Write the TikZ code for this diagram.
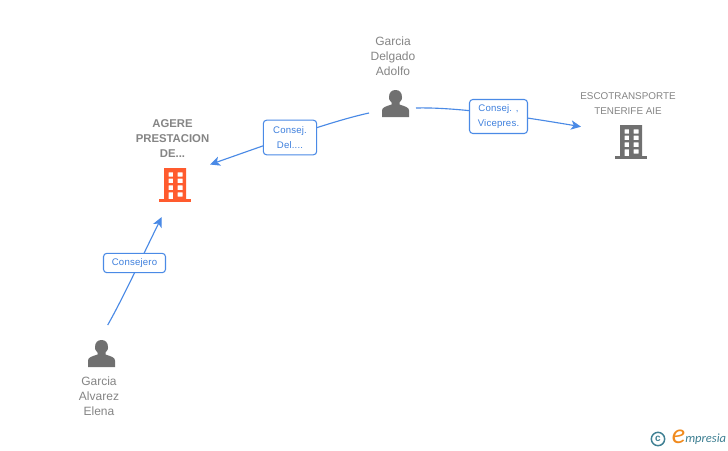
\documentclass[tikz,border=0pt]{standalone}
\usepackage{fontspec}
\setmainfont{Liberation Sans}
\newfontfamily\namefont{Liberation Sans}
\newfontfamily\capsfont{Liberation Sans}
\newfontfamily\labfont[LetterSpace=2]{Liberation Sans}
\newfontfamily\logofont{Carlito}
\usetikzlibrary{arrows.meta}
\definecolor{txtgray}{HTML}{858585}
\definecolor{icongray}{HTML}{707070}
\definecolor{hotorange}{HTML}{FF5B2E}
\definecolor{linkblue}{HTML}{4A8AE6}
\definecolor{labblue}{HTML}{3D7FDD}
\definecolor{logoteal}{HTML}{3F8093}
\definecolor{logoorange}{HTML}{F08A1D}
\tikzset{
  x=0.75pt,y=-0.75pt,
  conn/.style={draw=linkblue,line width=0.85pt,-{Stealth[length=7.5pt,width=7pt,inset=2pt]}},
  linkbox/.style={draw=linkblue,line width=0.8pt,rounded corners=2.5pt,fill=white,
    inner sep=0pt,text=labblue,align=center,font=\labfont\fontsize{7.2pt}{11.25pt}\selectfont},
  personname/.style={text=txtgray,align=center,inner sep=0pt,font=\namefont\fontsize{9pt}{11.25pt}\selectfont},
  firmname/.style={text=txtgray,align=center,inner sep=0pt,font=\capsfont\fontsize{7.4pt}{11.25pt}\selectfont},
  hotname/.style={text=txtgray,align=center,inner sep=0pt,font=\capsfont\bfseries\fontsize{8.5pt}{11.25pt}\selectfont},
  anchorbox/.style={inner sep=0pt,minimum width=20pt,minimum height=20pt},
  pics/persona/.style={code={
    \fill[icongray] (-13.5,13.5) -- (-13.5,7) .. controls (-13.5,4) and (-10,3) .. (-4,1)
      -- (-4,-1) .. controls (-6.5,-3) and (-6.5,-5) .. (-6.5,-6)
      .. controls (-6.5,-11) and (-4,-13.5) .. (0,-13.5)
      .. controls (4,-13.5) and (6.5,-11) .. (6.5,-6)
      .. controls (6.5,-5) and (6.5,-3) .. (4,-1)
      -- (4,1) .. controls (10,3) and (13.5,4) .. (13.5,7) -- (13.5,13.5) -- cycle;
  }},
  pics/tower/.style={code={
    \fill[#1,even odd rule]
      (-11,-17) rectangle (11,15)
      (-6.5,-12.7) rectangle (-2,-8.3)
      (2.5,-12.7) rectangle (7.5,-8.3)
      (-6.5,-6.3) rectangle (-2,-2)
      (2.5,-6.3) rectangle (7.5,-2)
      (-6.5,0.3) rectangle (-2,5)
      (2.5,0.3) rectangle (7.5,5)
      (-6.5,7.3) rectangle (-2,15)
      (2.5,7.3) rectangle (7.5,11.5);
    \fill[#1] (-16,14) rectangle (16,16.8);
  }},
}
\begin{document}
\begin{tikzpicture}
\useasboundingbox (0,0) rectangle (728,450);
\fill[white] (0,0) rectangle (728,450);
% connector ends
\coordinate (e1s) at (369,113);
\coordinate (e1t) at (210,164.5);
\coordinate (e2s) at (416,108);
\coordinate (e2t) at (581,126.7);
\coordinate (e3s) at (107.7,325);
\coordinate (e3t) at (161.7,217);
% connectors
\draw[conn] (e1s) .. controls (330,121.5) and (270,143.5) .. (e1t);
\draw[conn] (e2s) .. controls (455,107) and (515,115.5) .. (e2t);
\draw[conn] (e3s) .. controls (122,300) and (143,255) .. (e3t);
% labels on connectors
\node[linkbox,minimum width=40pt,minimum height=26pt] (lab1) at (290,137.5) {Consej.\\Del....};
\node[linkbox,minimum width=43.5pt,minimum height=25.5pt] (lab2) at (498.5,116.5) {Consej. ,\\Vicepres.};
\node[linkbox,minimum width=46.5pt,minimum height=14.5pt] (lab3) at (134.5,263) {Consejero};
% icons
\node[anchorbox] (pdelgado) at (395.5,103.5) {};
\pic at (pdelgado) {persona};
\node[anchorbox] (palvarez) at (101.5,353.5) {};
\pic at (palvarez) {persona};
\node[anchorbox] (bagere) at (175,185) {};
\pic at (bagere) {tower=hotorange};
\node[anchorbox] (besco) at (631,142) {};
\pic at (besco) {tower=icongray};
% names
\node[personname] (tdelgado) at (393,56.5) {Garcia\\Delgado\\Adolfo};
\node[personname] (talvarez) at (99,396.5) {Garcia\\Alvarez\\Elena};
\node[hotname] (tagere) at (172.5,139) {AGERE\\PRESTACION\\DE...};
\node[firmname] (tesco) at (628,103.5) {ESCOTRANSPORTE\\TENERIFE AIE};
% logo
\node[circle,draw=logoteal,line width=1.1pt,minimum size=10pt,inner sep=0pt,text=logoteal,font=\fontsize{7.5pt}{7.5pt}\selectfont\bfseries] (copyr) at (658,439) {c};
\node[inner sep=0pt,text=logoorange,font=\logofont\itshape\fontsize{21pt}{21pt}\selectfont] (logoe) at (678.5,436.5) {e};
\node[inner sep=0pt,anchor=west,text=logoteal,font=\logofont\itshape\fontsize{9.4pt}{10pt}\selectfont] (logot) at (685,439.5) {mpresia};
\end{tikzpicture}
\end{document}
